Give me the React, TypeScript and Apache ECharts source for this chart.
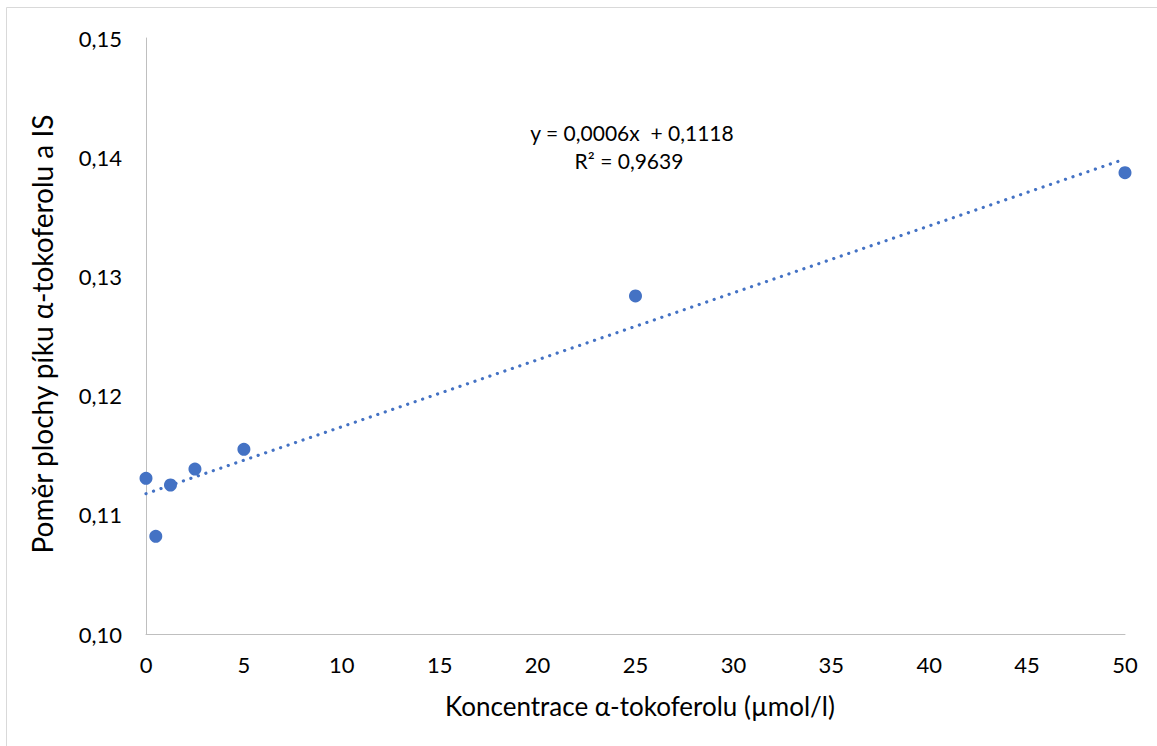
import React, { useEffect, useRef } from "react";
import * as echarts from "echarts";

const concentrations = [0, 0.5, 1.25, 2.5, 5, 25, 50];
const ratios = [0.11306, 0.1082, 0.1125, 0.11384, 0.11549, 0.12836, 0.1387];
const trendX = [0, 50];
const trendY = [0.11177, 0.13985];
const xTitle = "Koncentrace α-tokoferolu (µmol/l)";
const yTitle = "Poměr plochy píku α-tokoferolu a IS";
const equationLines = ["y = 0,0006x  + 0,1118", "R² = 0,9639"];

const FONT = "Lato, 'Liberation Sans', sans-serif";
const BLUE = "#4472C4";

export default function App() {
  const ref = useRef<HTMLDivElement>(null);
  useEffect(() => {
    document.body.style.margin = "0";
    const chart = echarts.init(ref.current!, undefined, { renderer: "svg" });
    chart.setOption({
      animation: false,
      backgroundColor: "#ffffff",
      textStyle: { fontFamily: FONT },
      grid: { left: 146, right: 32, top: 38, bottom: 112, containLabel: false },
      xAxis: {
        type: "value",
        min: 0,
        max: 50,
        interval: 5,
        axisLine: { show: true, lineStyle: { color: "#bfbfbf", width: 1 } },
        axisTick: { show: false },
        splitLine: { show: false },
        axisLabel: { color: "#000", fontSize: 22, margin: 19, fontFamily: FONT },
      },
      yAxis: {
        type: "value",
        min: 0.1,
        max: 0.15,
        interval: 0.01,
        axisLine: { show: true, onZero: false, lineStyle: { color: "#bfbfbf", width: 1 } },
        axisTick: { show: false },
        splitLine: { show: false },
        axisLabel: {
          color: "#000",
          fontSize: 22,
          margin: 24,
          fontFamily: FONT,
          formatter: (v: number) => v.toFixed(2).replace(".", ","),
        },
      },
      series: [
        {
          type: "line",
          data: trendX.map((x, i) => [x, trendY[i]]),
          showSymbol: false,
          symbol: "none",
          lineStyle: { color: BLUE, width: 3.2, type: [0.1, 7.8], cap: "round" },
          z: 2,
        },
        {
          type: "scatter",
          data: concentrations.map((x, i) => [x, ratios[i]]),
          symbol: "circle",
          symbolSize: 13,
          itemStyle: { color: BLUE, opacity: 1 },
          z: 3,
        },
      ],
      graphic: [
        {
          type: "rect",
          shape: { x: 6.5, y: 7.5, width: 1200, height: 800 },
          style: { fill: "none", stroke: "#d9d9d9", lineWidth: 1 },
          silent: true,
        },
        {
          type: "text",
          x: 640,
          y: 706,
          style: {
            text: xTitle,
            fontSize: 26,
            fontFamily: FONT,
            fill: "#000",
            align: "center",
            verticalAlign: "middle",
          },
        },
        {
          type: "text",
          x: 42,
          y: 334,
          rotation: Math.PI / 2,
          style: {
            text: yTitle,
            fontSize: 28,
            fontFamily: FONT,
            fill: "#000",
            align: "center",
            verticalAlign: "middle",
          },
        },
        {
          type: "text",
          x: 632,
          y: 132,
          style: {
            text: equationLines[0],
            fontSize: 21,
            fontFamily: FONT,
            fill: "#000",
            align: "center",
            verticalAlign: "middle",
          },
        },
        {
          type: "text",
          x: 629,
          y: 160,
          style: {
            text: equationLines[1],
            fontSize: 21,
            fontFamily: FONT,
            fill: "#000",
            align: "center",
            verticalAlign: "middle",
          },
        },
      ],
    });
    return () => chart.dispose();
  }, []);
  return (
    <div
      ref={ref}
      style={{ position: "fixed", left: 0, top: 0, width: 1157, height: 746, background: "#fff" }}
    />
  );
}
